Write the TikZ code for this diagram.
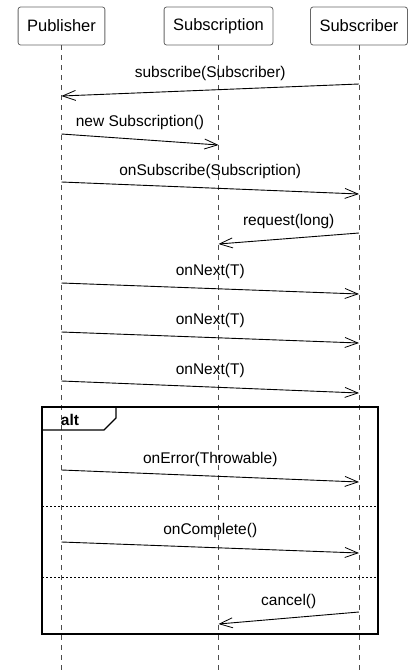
\documentclass[tikz,border=0pt]{standalone}
\usepackage{fontspec}
\setmainfont{Liberation Sans}
\usetikzlibrary{positioning,arrows.meta,calc}
\tikzstyle{actor} = [draw=black!60,line width=0.8pt,fill=white,rounded corners=2.5pt,minimum height=38pt,inner xsep=9pt,font=\fontsize{16.5}{18}\selectfont]
\tikzstyle{lifeline} = [draw=black!70,line width=0.7pt,dash pattern=on 5pt off 5pt]
\tikzstyle{msg} = [line width=0.9pt,-{Straight Barb[length=13pt,width=10pt,line width=0.8pt]}]
\tikzstyle{lbl} = [midway,yshift=17pt,inner sep=0pt,font=\fontsize{15.5}{17}\selectfont]
\tikzstyle{divider} = [line width=0.8pt,dash pattern=on 2pt off 2pt]

\begin{document}
\begin{tikzpicture}[x=1pt,y=-1pt]
    \useasboundingbox (0,0) rectangle (414,670);
    % participants
    \node[actor](pub) at (61.5,26) {Publisher};
    \node[actor](subn) at (218.5,26) {Subscription};
    \node[actor](sub) at (359,26) {Subscriber};
    \coordinate (pub_end) at (pub |- 0,670);
    \coordinate (subn_end) at (subn |- 0,670);
    \coordinate (sub_end) at (sub |- 0,670);
    \draw[lifeline] (pub) -- (pub_end);
    \draw[lifeline] (subn) -- (subn_end);
    \draw[lifeline] (sub) -- (sub_end);
    % messages
    \draw[msg] (sub |- 0,84) -- node[lbl]{subscribe(Subscriber)} (pub |- 0,96);
    \draw[msg] (pub |- 0,134) -- node[lbl]{new Subscription()} (subn |- 0,145);
    \draw[msg] (pub |- 0,182) -- node[lbl]{onSubscribe(Subscription)} (sub |- 0,194);
    \draw[msg] (sub |- 0,233) -- node[lbl]{request(long)} (subn |- 0,244);
    \draw[msg] (pub |- 0,283) -- node[lbl]{onNext(T)} (sub |- 0,294);
    \draw[msg] (pub |- 0,332) -- node[lbl]{onNext(T)} (sub |- 0,343);
    \draw[msg] (pub |- 0,381) -- node[lbl]{onNext(T)} (sub |- 0,393);
    % alt fragment
    \draw[line width=1.8pt] (42,407) rectangle (378,634);
    \draw[line width=1.2pt] (42,430) -- (104,430) -- (116,418) -- (116,407);
    \node[font=\bfseries\fontsize{15.5}{17}\selectfont,inner sep=0pt] (alt) at (70,420) {alt};
    \draw[divider] (42,506) -- (378,506);
    \draw[divider] (42,577) -- (378,577);
    \draw[msg] (pub |- 0,470) -- node[lbl]{onError(Throwable)} (sub |- 0,482);
    \draw[msg] (pub |- 0,542) -- node[lbl]{onComplete()} (sub |- 0,553);
    \draw[msg] (sub |- 0,612) -- node[lbl]{cancel()} (subn |- 0,624);
\end{tikzpicture}
\end{document}
